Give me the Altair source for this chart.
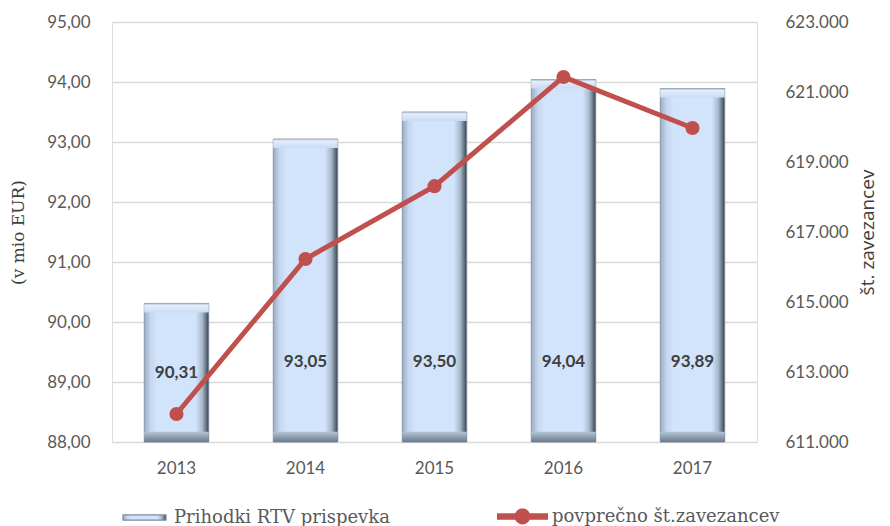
import altair as alt
import pandas as pd

years = ["2013", "2014", "2015", "2016", "2017"]
revenue = [90.31, 93.05, 93.50, 94.04, 93.89]
payers = [611800, 616230, 618310, 621430, 619970]
bar_name = "Prihodki RTV prispevka"
line_name = "povprečno št.zavezancev"
left_ticks = [88, 89, 90, 91, 92, 93, 94, 95]
right_ticks = [611000, 613000, 615000, 617000, 619000, 621000, 623000]

df = pd.DataFrame({"year": years, "revenue": revenue, "payers": payers,
                   "bar": bar_name, "line": line_name})

LABEL_FONT = "Lato"
GREY = "#595959"

x = alt.X("year:O", title=None,
          scale=alt.Scale(paddingInner=0.5, paddingOuter=0.25),
          axis=alt.Axis(labelAngle=0, labelFont=LABEL_FONT, labelFontSize=17,
                        labelColor=GREY, labelPadding=18, domain=False, ticks=False))

yscale = alt.Scale(domain=[88, 95], zero=False, nice=False)
left_axis = alt.Axis(values=left_ticks,
                     labelExpr="replace(format(datum.value, '.2f'), '.', ',')",
                     grid=True, gridColor="#d9d9d9", gridWidth=1.5,
                     domain=False, ticks=False, labelFont=LABEL_FONT,
                     labelFontSize=17, labelColor=GREY, labelPadding=22,
                     titleFont="DejaVu Serif", titleFontSize=17,
                     titleFontWeight="normal", titleColor="#404040",
                     titlePadding=19)
LTITLE = "(v mio EUR)"

side_grad = alt.Gradient(
    gradient="linear", x1=0, x2=1, y1=0, y2=0,
    stops=[alt.GradientStop(color="#9aadc3", offset=0),
           alt.GradientStop(color="#c4d7ef", offset=0.1),
           alt.GradientStop(color="#d1e4fc", offset=0.2),
           alt.GradientStop(color="#d1e4fc", offset=0.8),
           alt.GradientStop(color="#a7b8cb", offset=0.9),
           alt.GradientStop(color="#39424c", offset=1)])
top_grad = alt.Gradient(
    gradient="linear", x1=0, x2=0, y1=0, y2=1,
    stops=[alt.GradientStop(color="#9fb1c6", offset=0),
           alt.GradientStop(color="#e4eefb", offset=0.2),
           alt.GradientStop(color="#c9dbf3", offset=1)])
bot_grad = alt.Gradient(
    gradient="linear", x1=0, x2=0, y1=0, y2=1,
    stops=[alt.GradientStop(color="#b3c4d8", offset=0),
           alt.GradientStop(color="#6b7a8b", offset=1)])

base = alt.Chart(df)

bars = base.mark_bar(color=side_grad, strokeWidth=0.8).encode(
    x=x,
    y=alt.Y("revenue:Q", title=LTITLE, scale=yscale, axis=left_axis),
    y2=alt.Y2(datum=88),
    stroke=alt.Stroke("bar:N", scale=alt.Scale(range=["#7d8c9e"]),
                      legend=alt.Legend(title=None, orient="none", legendX=10, legendY=473,
                                        symbolType="M-1,-0.12H1V0.12H-1Z", symbolSize=1849,
                                        symbolFillColor="#c6d9f1", symbolStrokeWidth=1.2,
                                        labelFont="DejaVu Serif", labelFontSize=18,
                                        labelColor=GREY, labelOffset=7, labelLimit=500,
                                        padding=0)),
)

top_cap = base.mark_bar(color=top_grad).transform_calculate(
    top2="datum.revenue - 0.15").encode(
    x=x, y=alt.Y("revenue:Q", title=LTITLE, scale=yscale, axis=left_axis),
    y2="top2:Q")

bot_cap = base.mark_bar(color=bot_grad).encode(
    x=x, y=alt.Y(datum=88.17, title=LTITLE, scale=yscale, axis=left_axis),
    y2=alt.Y2(datum=88))

labels = base.mark_text(font=LABEL_FONT, fontSize=17, fontWeight="bold",
                        color="#404040").transform_calculate(
    ly="min((88 + datum.revenue) / 2, 89.33)",
    txt="replace(format(datum.revenue, '.2f'), '.', ',')").encode(
    x=x, y=alt.Y("ly:Q", title=LTITLE, scale=yscale, axis=left_axis), text="txt:N")

left_layer = alt.layer(bars, top_cap, bot_cap, labels)

rscale = alt.Scale(domain=[611000, 623000], zero=False, nice=False)
right_axis = alt.Axis(orient="right", values=right_ticks,
                      labelExpr="replace(format(datum.value, ',d'), ',', '.')",
                      grid=False, domain=False, ticks=False,
                      labelFont=LABEL_FONT, labelFontSize=17, labelColor=GREY,
                      labelPadding=28, titleAngle=270, titleFont="Open Sans",
                      titleFontSize=19, titleFontWeight="normal",
                      titleColor="#404040", titlePadding=29)
RTITLE = "št. zavezancev"

line = base.mark_line(strokeWidth=5).encode(
    x=x, y=alt.Y("payers:Q", title=RTITLE, scale=rscale, axis=right_axis),
    stroke=alt.Stroke("line:N", scale=alt.Scale(range=["#c0504d"]),
                      legend=alt.Legend(title=None, orient="none", legendX=385, legendY=469,
                                        symbolType="M-1,-0.13H1V0.13H-1Z M0.31,0 A0.31,0.31 0 1,1 -0.31,0 A0.31,0.31 0 1,1 0.31,0Z",
                                        symbolSize=2601, symbolFillColor="#c0504d",
                                        symbolStrokeWidth=0,
                                        labelFont="DejaVu Serif", labelFontSize=18,
                                        labelColor=GREY, labelOffset=4, labelLimit=500,
                                        padding=0)))

pts = base.mark_point(filled=True, size=200, opacity=1, color="#c0504d").encode(
    x=x, y=alt.Y("payers:Q", title=RTITLE, scale=rscale, axis=right_axis))

right_layer = alt.layer(line, pts)

chart = alt.layer(left_layer, right_layer).resolve_scale(
    y="independent", stroke="independent").properties(
    width=645, height=420,
    autosize=alt.AutoSizeParams(type="none"),
    padding={"left": 104, "top": 14, "right": 125, "bottom": 92},
).configure_view(stroke=None).configure(background="white")

chart.save("out.html", embed_options={"renderer": "svg", "actions": False})
